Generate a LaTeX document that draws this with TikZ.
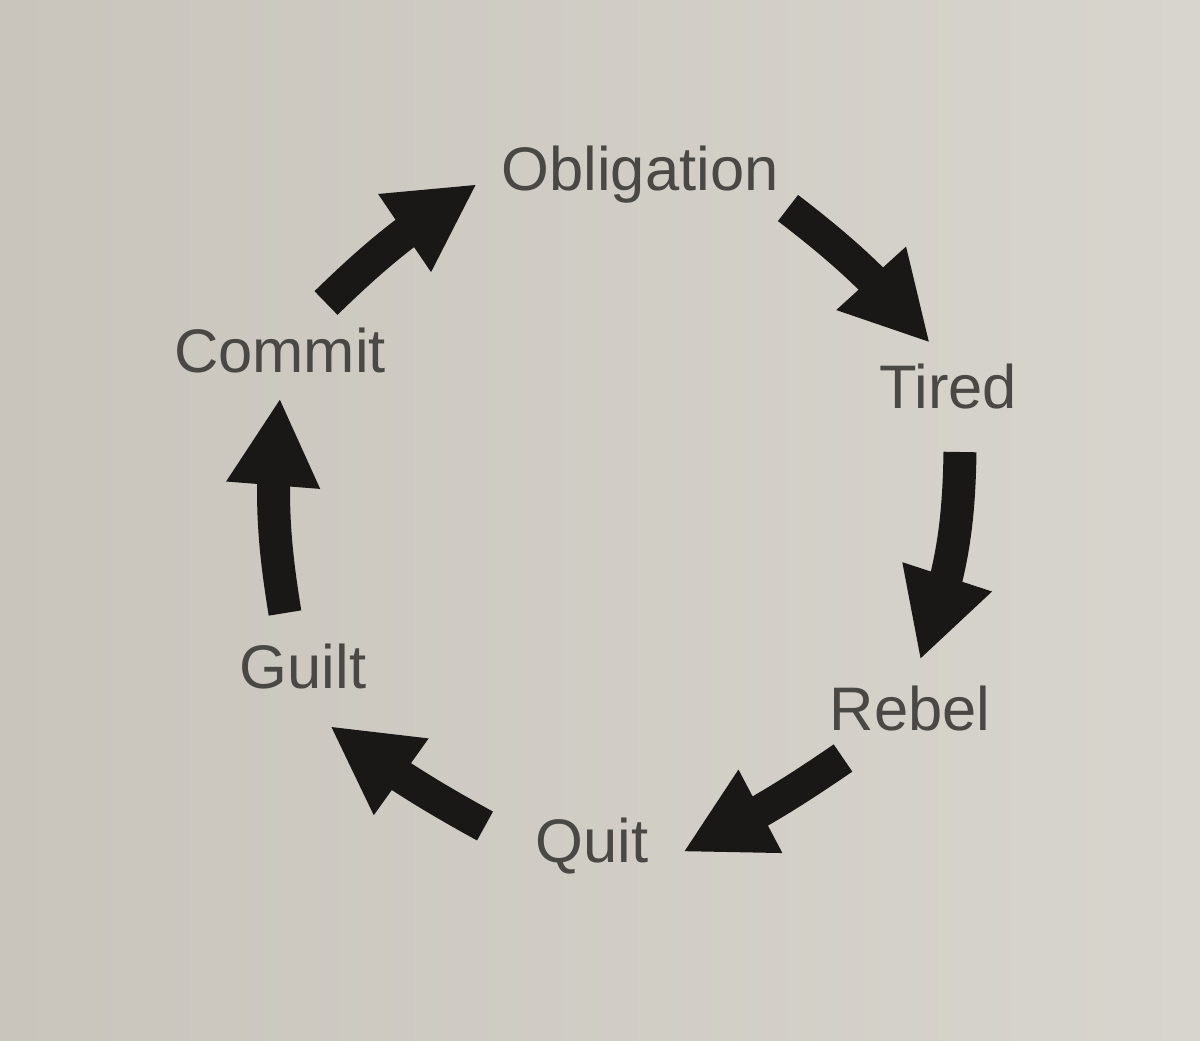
\documentclass[tikz,border=0pt]{standalone}
\usepackage{fontspec}
\setmainfont{Liberation Sans}
\usetikzlibrary{arrows.meta,bending}
\definecolor{paper}{HTML}{D8D5CE}
\definecolor{paperdark}{HTML}{C9C5BD}
\definecolor{ink}{HTML}{1A1816}
\definecolor{txt}{HTML}{4A4845}
\begin{document}
\begin{tikzpicture}[x=0.02cm,y=-0.02cm,
  lbl/.style={font=\fontsize{35}{40}\selectfont, text=txt, anchor=base, inner sep=0pt},
  cyc/.style={draw=ink, line width=0.66cm,
    -{Triangle[width=1.75cm,length=1.75cm,flex]}}]
  \shade[left color=paperdark, right color=paper] (0,0) rectangle (1200,1041);
  \useasboundingbox (0,0) rectangle (1200,1041);

  \node[lbl] (obl) at (640,190) {Obligation};
  \node[lbl] (tir) at (948,408) {Tired};
  \node[lbl] (reb) at (910,730) {Rebel};
  \node[lbl] (qui) at (592,862) {Quit};
  \node[lbl] (gui) at (303,688) {Guilt};
  \node[lbl] (com) at (280,372) {Commit};

  \coordinate (a1) at (326,303);  \coordinate (b1) at (477,184);
  \coordinate (a2) at (788,208);  \coordinate (b2) at (930,343);
  \coordinate (a3) at (960,452);  \coordinate (b3) at (920,660);
  \coordinate (a4) at (843,758);  \coordinate (b4) at (683,852);
  \coordinate (a5) at (485,826);  \coordinate (b5) at (330,726);
  \coordinate (a6) at (285,613);  \coordinate (b6) at (280,398);

  \draw[cyc] (a1) to[bend left=6] (b1);
  \draw[cyc] (a2) to[bend left=6] (b2);
  \draw[cyc] (a3) to[bend left=10] (b3);
  \draw[cyc] (a4) to[bend left=4] (b4);
  \draw[cyc] (a5) to[bend left=4] (b5);
  \draw[cyc] (a6) to[bend left=8] (b6);
\end{tikzpicture}
\end{document}
